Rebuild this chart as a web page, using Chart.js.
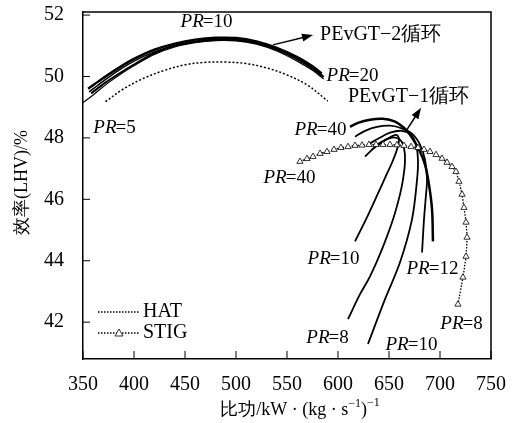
<!DOCTYPE html>
<html>
<head>
<meta charset="utf-8">
<script src="https://cdn.jsdelivr.net/npm/chart.js@4.4.1/dist/chart.umd.min.js"></script>
<style>
  body { margin: 0; background: #fff; }
</style>
</head>
<body>
<canvas id="myChart" width="520" height="423"></canvas>
<script>
/* ejes */
const xTicks = [350, 400, 450, 500, 550, 600, 650, 700, 750];
const yTicks = [42, 44, 46, 48, 50, 52];

/* PEvGT-2 (haz de curvas) */
const pevgt2A = [[355,49.6],[370,49.95],[385,50.28],[400,50.57],[420,50.87],[440,51.07],[460,51.2],[480,51.26],[500,51.25],[520,51.14],[540,50.93],[560,50.63],[575,50.33],[584,50.1]];
const pevgt2B = [[356,49.5],[370,49.85],[385,50.2],[400,50.5],[420,50.8],[440,51.02],[460,51.15],[480,51.22],[500,51.2],[520,51.08],[540,50.86],[560,50.55],[575,50.25],[585,50.0]];
const pevgt2C = [[350,49.15],[360,49.4],[375,49.8],[390,50.15],[405,50.45],[420,50.72],[440,50.96],[460,51.1],[480,51.17],[500,51.16],[520,51.05],[540,50.83],[560,50.5],[575,50.2],[586,49.92]];
const pevgt2D = [[358,49.45],[372,49.8],[387,50.13],[402,50.43],[420,50.76],[440,51.0],[460,51.13],[480,51.2],[500,51.19],[520,51.1],[540,50.9],[560,50.6],[578,50.22],[586,49.98]];

/* HAT */
const hatPts = [[372,49.18],[390,49.6],[410,49.95],[430,50.2],[450,50.38],[470,50.46],[490,50.47],[510,50.42],[530,50.28],[550,50.05],[570,49.72],[590,49.2]];

/* STIG */
const stigPts = [[562.7,47.23],[569.6,47.32],[575.5,47.39],[582.4,47.49],[589.2,47.55],[596.1,47.62],[602.9,47.68],[609.8,47.71],[616.7,47.75],[623.5,47.76],[630.4,47.78],[637.3,47.78],[644.1,47.78],[651,47.78],[657.8,47.77],[664.7,47.75],[671.6,47.71],[678.4,47.68],[684.3,47.62],[690.2,47.55],[696.1,47.45],[702,47.33],[706.9,47.2],[711.8,47.06],[715.7,46.9],[718.6,46.58],[721.6,46.16],[723.5,45.73],[725.5,45.25],[726.5,44.76],[725.5,44.14],[722.5,43.46],[717.6,42.58]];

/* PEvGT-1 (abanico) */
const pevgt1A = [[611.8,48.36],[619.6,48.49],[631.4,48.59],[644.1,48.62],[655.9,48.53],[665.7,48.3],[672.5,48.01],[679.4,47.62],[685.3,47.13],[689.2,46.48],[692.2,45.67],[693.1,44.63]];
const pevgt1B = [[616.7,48.04],[626.5,48.23],[638.2,48.36],[651,48.4],[660.8,48.33],[672.5,48.14],[680.4,47.78],[685.3,47.29],[687.3,46.64],[686.3,46.16],[684.3,45.34],[682.4,44.27]];
const pevgt1C = [[629.4,47.78],[639.2,47.97],[651,48.17],[662.7,48.23],[671.6,48.1],[676.5,47.78],[678.4,47.29],[677.5,46.64],[672.5,45.34],[660.8,43.95],[646.1,42.75],[629.4,41.29]];
const pevgt1D = [[626.5,47.39],[641.2,47.84],[652.9,48.01],[660.8,47.94],[664.7,47.68],[665.7,47.23],[663.7,46.64],[660.8,46.16],[653.9,45.34],[643.1,44.37],[631.4,43.49],[621.6,42.91],[609.8,42.1]];
const pevgt1E = [[633.3,47.62],[647.1,47.94],[656.9,48.1],[659.8,47.97],[657.8,47.62],[652.9,47.19],[647.1,46.77],[639.2,46.19],[628.4,45.41],[616.7,44.63]];

/* etiquetas PR (texto, x, y) */
const prLabels = [
  ['=10', 471.6, 51.77], ['=5', 381.4, 48.33], ['=20', 614.7, 50.02],
  ['=40', 583.3, 48.27], ['=40', 552.9, 46.68], ['=10', 596.1, 44.05],
  ['=12', 693.1, 43.72], ['=8', 721.6, 41.94], ['=8', 590.2, 41.48], ['=10', 672.5, 41.25]
];
const cycleLabels = [['PEvGT\u22122循环', 582.4, 51.35], ['PEvGT\u22121循环', 609.8, 49.34]];
const arrows = [[536.3, 51.03, 575.5, 51.35], [667.6, 48.27, 681.4, 48.98]];

const SERIF = '"Liberation Serif", "Times New Roman", "DejaVu Serif", serif';

function linea(data, width, dash) {
  return {
    data: data.map(p => ({x: p[0], y: p[1]})),
    showLine: true, borderColor: '#000', borderWidth: width, borderDash: dash || [],
    pointRadius: 0, tension: 0.35, fill: false
  };
}

const stigSet = linea(stigPts, 1.3, [1.5, 1.5]);
stigSet.pointRadius = 3.6;
stigSet.pointStyle = 'triangle';
stigSet.pointBackgroundColor = '#fff';
stigSet.pointBorderColor = '#000';
stigSet.pointBorderWidth = 0.8;
stigSet.tension = 0.2;

function drawPR(ctx, px, py, rest) {
  ctx.font = 'italic 19px ' + SERIF;
  const w1 = ctx.measureText('PR').width;
  ctx.font = '19px ' + SERIF;
  const w2 = ctx.measureText(rest).width;
  let sx = px - (w1 + w2) / 2;
  ctx.font = 'italic 19px ' + SERIF;
  ctx.fillText('PR', sx, py);
  ctx.font = '19px ' + SERIF;
  ctx.fillText(rest, sx + w1 - 1, py);
}

function arrow(ctx, x1, y1, x2, y2) {
  const ang = Math.atan2(y2 - y1, x2 - x1);
  ctx.lineWidth = 1.5;
  ctx.beginPath(); ctx.moveTo(x1, y1); ctx.lineTo(x2 - 8 * Math.cos(ang), y2 - 8 * Math.sin(ang)); ctx.stroke();
  ctx.beginPath();
  ctx.moveTo(x2, y2);
  ctx.lineTo(x2 - 11 * Math.cos(ang) + 4 * Math.sin(ang), y2 - 11 * Math.sin(ang) - 4 * Math.cos(ang));
  ctx.lineTo(x2 - 11 * Math.cos(ang) - 4 * Math.sin(ang), y2 - 11 * Math.sin(ang) + 4 * Math.cos(ang));
  ctx.closePath(); ctx.fill();
}

const decor = {
  id: 'decor',
  afterDraw(chart) {
    const {ctx, chartArea: a, scales: {x, y}} = chart;
    ctx.save();
    ctx.strokeStyle = '#000';
    ctx.fillStyle = '#000';
    // marco superior y derecho
    ctx.lineWidth = 1.5;
    ctx.beginPath(); ctx.moveTo(a.left, a.top); ctx.lineTo(a.right, a.top); ctx.lineTo(a.right, a.bottom); ctx.stroke();
    // marcas interiores
    ctx.lineWidth = 1;
    xTicks.forEach(v => {
      const px = x.getPixelForValue(v);
      ctx.beginPath(); ctx.moveTo(px, a.bottom); ctx.lineTo(px, a.bottom - 8); ctx.stroke();
    });
    yTicks.forEach(v => {
      const py = y.getPixelForValue(v);
      ctx.beginPath(); ctx.moveTo(a.left, py); ctx.lineTo(a.left + 7, py); ctx.stroke();
    });
    // flechas
    arrows.forEach(r => arrow(ctx, x.getPixelForValue(r[0]), y.getPixelForValue(r[1]), x.getPixelForValue(r[2]), y.getPixelForValue(r[3])));
    // textos
    ctx.textBaseline = 'middle';
    prLabels.forEach(l => drawPR(ctx, x.getPixelForValue(l[1]), y.getPixelForValue(l[2]), l[0]));
    ctx.font = '20px ' + SERIF;
    ctx.textAlign = 'left';
    cycleLabels.forEach(l => ctx.fillText(l[0], x.getPixelForValue(l[1]), y.getPixelForValue(l[2])));
    // leyenda
    const lx = a.left + 15, ly1 = a.bottom - 47, ly2 = a.bottom - 26;
    ctx.lineWidth = 1.3;
    ctx.setLineDash([1.5, 1.5]);
    ctx.beginPath(); ctx.moveTo(lx, ly1); ctx.lineTo(lx + 42, ly1); ctx.stroke();
    ctx.beginPath(); ctx.moveTo(lx, ly2); ctx.lineTo(lx + 42, ly2); ctx.stroke();
    ctx.setLineDash([]);
    ctx.fillStyle = '#fff'; ctx.lineWidth = 0.8;
    ctx.beginPath(); ctx.moveTo(lx + 21, ly2 - 4); ctx.lineTo(lx + 25, ly2 + 3); ctx.lineTo(lx + 17, ly2 + 3); ctx.closePath();
    ctx.fill(); ctx.stroke();
    ctx.fillStyle = '#000';
    ctx.font = '20px ' + SERIF;
    ctx.fillText('HAT', lx + 45, ly1);
    ctx.fillText('STIG', lx + 45, ly2);
    // titulo eje x
    const parts = [['比功/kW · (kg · s', 18, 0], ['\u22121', 12, -6], [')', 18, 0], ['\u22121', 12, -7]];
    let tw = 0;
    parts.forEach(p => { ctx.font = p[1] + 'px ' + SERIF; tw += ctx.measureText(p[0]).width; });
    let tx = a.left + 217 - tw / 2;
    const ty = 410;
    parts.forEach(p => {
      ctx.font = p[1] + 'px ' + SERIF;
      ctx.fillText(p[0], tx, ty + p[2]);
      tx += ctx.measureText(p[0]).width;
    });
    // titulo eje y
    ctx.translate(22, (a.top + a.bottom) / 2 - 3);
    ctx.rotate(-Math.PI / 2);
    ctx.textAlign = 'center';
    ctx.font = '18px ' + SERIF;
    ctx.fillText('效率(LHV)/%', 0, 0);
    ctx.restore();
  }
};

const ctx = document.getElementById('myChart');

new Chart(ctx, {
  type: 'scatter',
  data: {
    datasets: [
      linea(pevgt2C, 1.2), linea(pevgt2D, 2), linea(pevgt2B, 1.5), linea(pevgt2A, 2.5),
      linea(hatPts, 1.5, [2, 2]),
      stigSet,
      linea(pevgt1A, 2.5), linea(pevgt1B, 1.8), linea(pevgt1C, 1.8), linea(pevgt1D, 1.8), linea(pevgt1E, 1.8)
    ]
  },
  options: {
    responsive: false,
    animation: false,
    layout: { padding: { top: 12, right: 29, left: 0, bottom: 0 } },
    plugins: { legend: { display: false }, tooltip: { enabled: false } },
    scales: {
      x: {
        type: 'linear', min: 350, max: 750,
        afterBuildTicks: s => { s.ticks = xTicks.map(v => ({value: v})); },
        afterFit: s => { s.height = 64; s.paddingLeft = 0; s.paddingRight = 0; },
        ticks: { color: '#000', font: { family: SERIF, size: 20 }, padding: 6, maxRotation: 0 },
        grid: { display: false },
        border: { display: true, color: '#000', width: 1.5 }
      },
      y: {
        type: 'linear', min: 40.8, max: 52.1,
        afterBuildTicks: s => { s.ticks = yTicks.map(v => ({value: v})); },
        afterFit: s => { s.width = 83; s.paddingTop = 0; s.paddingBottom = 0; },
        ticks: { color: '#000', font: { family: SERIF, size: 20 }, padding: 11 },
        grid: { display: false },
        border: { display: true, color: '#000', width: 1.5 }
      }
    }
  },
  plugins: [decor]
});
</script>
</body>
</html>
